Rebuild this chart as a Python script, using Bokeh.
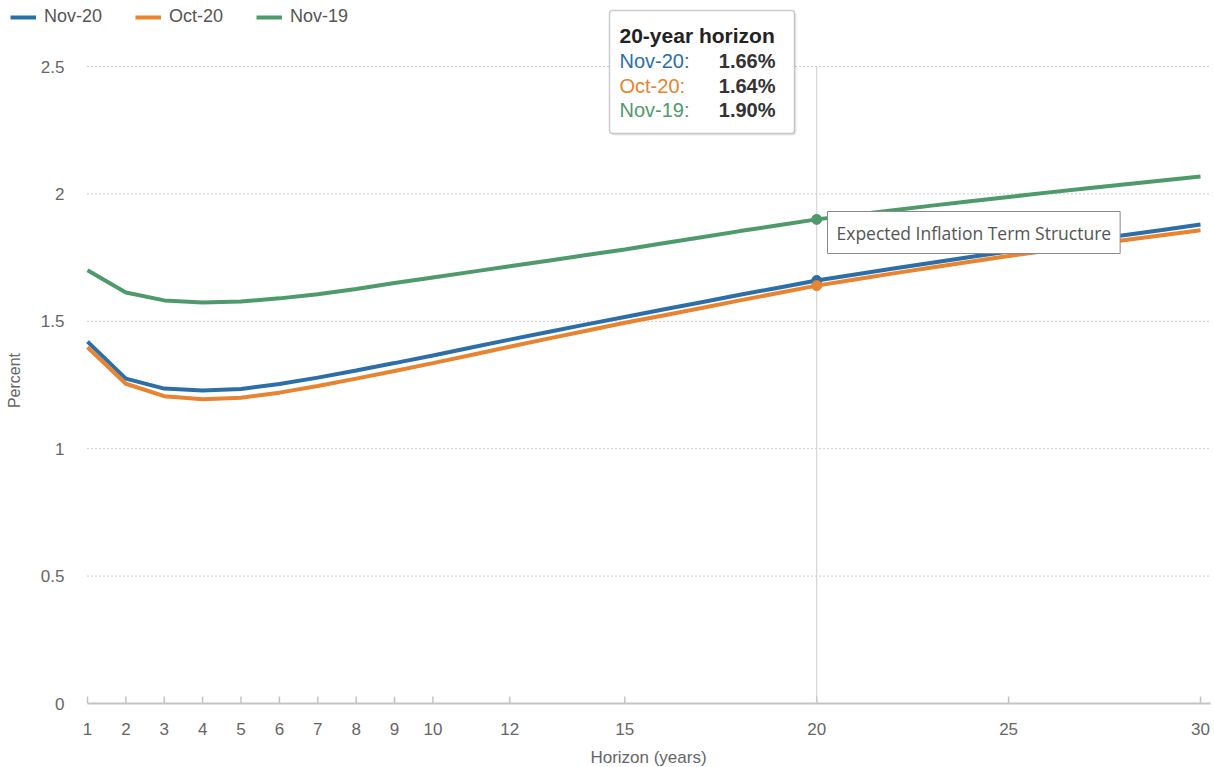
import math
from bokeh.plotting import figure
from bokeh.models import Range1d, Label, BoxAnnotation, Legend, LegendItem
from bokeh.core.properties import value
from bokeh.embed import file_html
from bokeh.resources import INLINE

# Expected inflation term structure, percent, by horizon in years
horizon = list(range(1, 31))
nov20 = [1.420, 1.275, 1.236, 1.228, 1.234, 1.254, 1.279, 1.307, 1.336, 1.366,
         1.397, 1.428, 1.458, 1.488, 1.517, 1.546, 1.575, 1.604, 1.632, 1.660,
         1.684, 1.707, 1.730, 1.752, 1.774, 1.795, 1.817, 1.838, 1.858, 1.880]
oct20 = [1.398, 1.255, 1.206, 1.194, 1.200, 1.220, 1.246, 1.275, 1.305, 1.336,
         1.368, 1.400, 1.432, 1.463, 1.494, 1.523, 1.552, 1.582, 1.611, 1.640,
         1.664, 1.688, 1.711, 1.734, 1.756, 1.777, 1.798, 1.818, 1.838, 1.857]
nov19 = [1.700, 1.613, 1.582, 1.574, 1.578, 1.590, 1.606, 1.627, 1.650, 1.672,
         1.694, 1.716, 1.738, 1.760, 1.782, 1.806, 1.830, 1.854, 1.877, 1.900,
         1.918, 1.936, 1.954, 1.971, 1.988, 2.005, 2.021, 2.037, 2.053, 2.068]
series_names = ["Nov-20", "Oct-20", "Nov-19"]
series_colors = ["#2c6ea8", "#e8832f", "#4f9a6b"]
x_ticks = [1, 2, 3, 4, 5, 6, 7, 8, 9, 10, 12, 15, 20, 25, 30]
y_ticks = [0, 0.5, 1, 1.5, 2, 2.5]
highlight_year = 20
chart_title = "Expected Inflation Term Structure"
x_title = "Horizon (years)"
y_title = "Percent"

FONT = "Liberation Sans"
W, H = 1214, 767

# The plotting area spans the whole canvas so that the legend and the
# tooltip (which sit partly outside the data area) are not clipped.
# Data area: horizon 1..30 -> px 87..1200, percent 0..2.5 -> px 703..66.
PX_PER_YEAR = (1200 - 87) / 29
PX_PER_PCT = (703 - 66) / 2.5
x_lo = 1 - 87 / PX_PER_YEAR
x_hi = x_lo + W / PX_PER_YEAR
y_lo = -(H - 703) / PX_PER_PCT
y_hi = y_lo + H / PX_PER_PCT
x_end = 1 + (1210 - 87) / PX_PER_YEAR   # right end of axis line / grid

p = figure(width=W, height=H,
           x_range=Range1d(x_lo, x_hi), y_range=Range1d(y_lo, y_hi),
           x_axis_location=None, y_axis_location=None,
           output_backend="svg", toolbar_location=None,
           min_border_left=0, min_border_right=0,
           min_border_top=0, min_border_bottom=0,
           outline_line_color=None,
           background_fill_color="white", border_fill_color="white")
p.grid.visible = False

# horizontal dotted grid
grid_y = [t for t in y_ticks if t > 0]
p.segment(x0=[1] * len(grid_y), y0=grid_y, x1=[x_end] * len(grid_y), y1=grid_y,
          line_color="#9a9a9a", line_width=1, line_dash="1 3")

# x axis line and upward ticks
p.segment(x0=[1], y0=[0], x1=[x_end], y1=[0], line_color="#c4c4c4", line_width=2)
tick_h = 7 / PX_PER_PCT
p.segment(x0=x_ticks, y0=[0] * len(x_ticks), x1=x_ticks,
          y1=[tick_h] * len(x_ticks), line_color="#c4c4c4", line_width=1.5)

# tick labels
p.text(x=x_ticks, y=[0] * len(x_ticks), text=[str(t) for t in x_ticks],
       y_offset=25, text_align="center", text_baseline="middle",
       text_font=value(FONT), text_font_size="17px", text_color="#666666")
p.text(x=[1] * len(y_ticks), y=y_ticks, text=[f"{t:g}" for t in y_ticks],
       x_offset=-23, text_align="right", text_baseline="middle",
       text_font=value(FONT), text_font_size="17px", text_color="#666666")

# axis titles
p.add_layout(Label(x=648, y=H - 757, x_units="screen", y_units="screen",
                   text=x_title, text_font=FONT, text_font_size="17px",
                   text_color="#666666", text_align="center",
                   text_baseline="middle"))
p.add_layout(Label(x=14, y=H - 380, x_units="screen", y_units="screen",
                   text=y_title, text_font=FONT, text_font_size="16px",
                   text_color="#666666", text_align="center",
                   text_baseline="middle", angle=math.pi / 2))

# crosshair at the highlighted horizon
p.segment(x0=[highlight_year], y0=[0], x1=[highlight_year], y1=[y_ticks[-1]],
          line_color="#cfcfcf", line_width=1)

series = [nov20, oct20, nov19]
idx = horizon.index(highlight_year)
renderers = []
for vals, col in zip(series, series_colors):
    r = p.line(horizon, vals, line_color=col, line_width=4)
    renderers.append(r)
for vals, col in zip(series, series_colors):
    p.scatter([highlight_year], [vals[idx]], size=10, color=col)

legend = Legend(items=[LegendItem(label=n, renderers=[r])
                       for n, r in zip(series_names, renderers)],
                orientation="horizontal", location=(10, H - 27),
                border_line_color=None, background_fill_alpha=0,
                label_text_font=FONT, label_text_font_size="18px",
                label_text_color="#555555",
                glyph_width=26, glyph_height=20, label_standoff=8,
                spacing=33, padding=0, margin=0)
p.add_layout(legend)

# chart caption next to the highlighted point
p.add_layout(Label(x=827, y=H - 232, x_units="screen", y_units="screen",
                   text=chart_title, text_font="Open Sans",
                   text_font_size="17.5px", text_color="#555555",
                   text_align="left", text_baseline="middle",
                   background_fill_color="white",
                   border_line_color="#8a8a8a", border_line_width=1,
                   padding=9))

# tooltip for the highlighted horizon
p.add_layout(BoxAnnotation(left=611, right=796, top=H - 12, bottom=H - 135,
                           left_units="screen", right_units="screen",
                           bottom_units="screen", top_units="screen",
                           fill_color="#000000", fill_alpha=0.08,
                           line_color=None, border_radius=3))
p.add_layout(BoxAnnotation(left=609, right=794, top=H - 10, bottom=H - 133,
                           left_units="screen", right_units="screen",
                           bottom_units="screen", top_units="screen",
                           fill_color="white", fill_alpha=1.0,
                           line_color="#555555", line_width=1.5,
                           border_radius=3))
p.add_layout(Label(x=619, y=H - 35, x_units="screen", y_units="screen",
                   text=f"{highlight_year}-year horizon", text_font=FONT,
                   text_font_size="21px", text_font_style="bold",
                   text_color="#222222", text_baseline="middle"))
row_y = [60, 85, 109]
for name, col, vals, yy in zip(series_names, series_colors, series, row_y):
    p.add_layout(Label(x=619, y=H - yy, x_units="screen", y_units="screen",
                       text=f"{name}:", text_font=FONT, text_font_size="20px",
                       text_color=col, text_baseline="middle"))
    p.add_layout(Label(x=775, y=H - yy, x_units="screen", y_units="screen",
                       text=f"{vals[idx]:.2f}%", text_font=FONT,
                       text_font_size="20px", text_font_style="bold",
                       text_color="#333333", text_baseline="middle",
                       text_align="right"))

open("out.html", "w").write(file_html(p, INLINE))
